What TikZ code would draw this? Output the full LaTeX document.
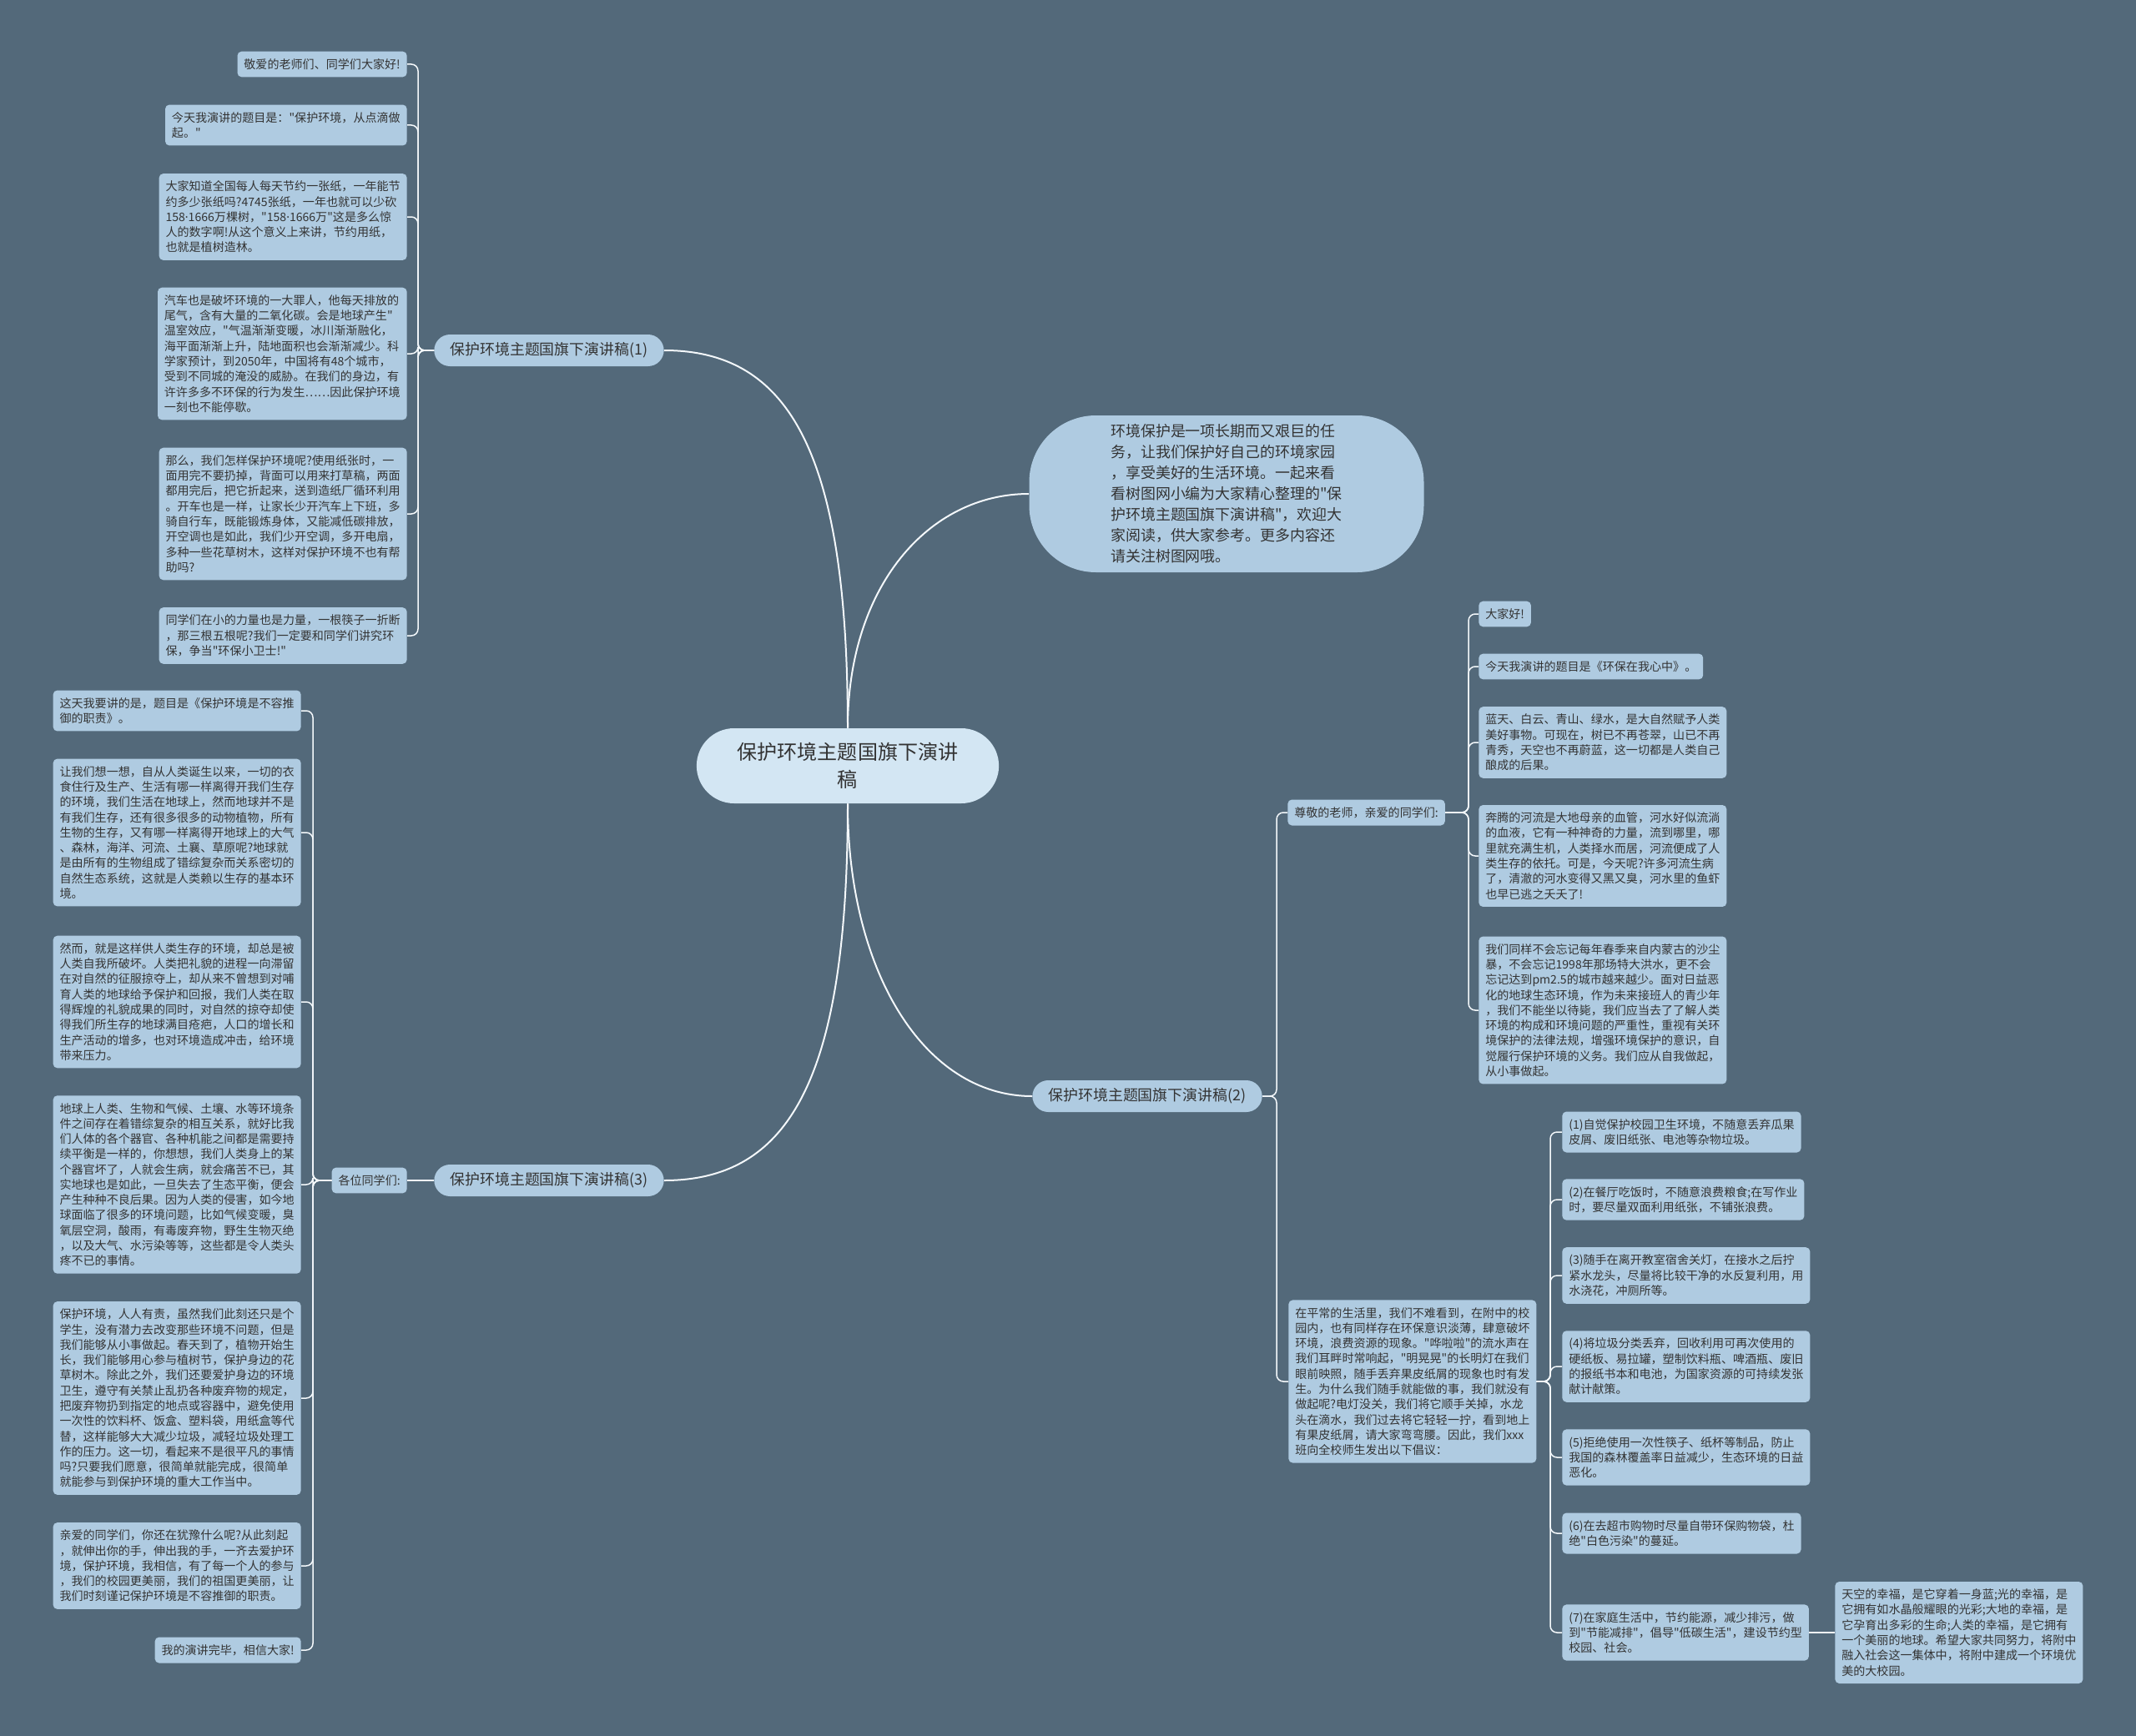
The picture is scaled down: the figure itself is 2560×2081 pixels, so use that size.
\documentclass[tikz,border=0pt]{standalone}
\usepackage{fontspec}
\newfontfamily\cjk{Noto Sans CJK SC}
\newfontfamily\latin{Noto Sans}
\usetikzlibrary{shapes.misc, positioning}
\definecolor{stBg}{HTML}{53697A}
\definecolor{stLeaf}{HTML}{AFCBE1}
\definecolor{stRoot}{HTML}{D3E6F3}
\definecolor{stInk}{HTML}{333333}
\definecolor{stLine}{HTML}{F4F8FB}
\newcommand{\mdot}{{\latin ·}}
\tikzset{
  leaf/.style={rectangle, rounded corners=1mm, fill=stLeaf, text=stInk,
    align=left, font=\cjk\fontsize{8}{10.4}\selectfont, inner xsep=4.5pt, inner ysep=5pt},
  leafL/.style={leaf, anchor=east},
  leafR/.style={leaf, anchor=west},
  topic/.style={rounded rectangle, fill=stLeaf, text=stInk,
    font=\cjk\fontsize{10.2}{12}\selectfont, minimum width=57.4mm, minimum height=7.6mm, inner ysep=1pt},
  root/.style={rounded rectangle, fill=stRoot, text=stInk, align=center,
    font=\cjk\fontsize{13.7}{18.8}\selectfont, minimum width=74.8mm, minimum height=18mm},
  blurb/.style={rectangle, rounded corners=16mm, fill=stLeaf, text=stInk, align=left,
    font=\cjk\fontsize{10.2}{14.2}\selectfont, minimum width=94.6mm, minimum height=37.6mm},
  mainlink/.style={draw=stLine, line width=0.4mm},
  leaflink/.style={draw=stLine, line width=0.3mm, rounded corners=1.6mm}
}
\begin{document}
\begin{tikzpicture}[x=0.2mm, y=-0.2mm]
  \fill[stBg] (0,0) rectangle (2560,2081);

  % centre and main topics
  \node[root] (ctr) at (1016,918) {保护环境主题国旗下演讲\\稿};
  \node[topic] (t1) at (658,420) {保护环境主题国旗下演讲稿(1)};
  \node[topic] (t2) at (1375,1314) {保护环境主题国旗下演讲稿(2)};
  \node[topic] (t3) at (658,1415) {保护环境主题国旗下演讲稿(3)};
  \node[blurb] (blurb) at (1470,592) {环境保护是一项长期而又艰巨的任\\
    务，让我们保护好自己的环境家园\\
    ，享受美好的生活环境。一起来看\\
    看树图网小编为大家精心整理的"保\\
    护环境主题国旗下演讲稿"，欢迎大\\
    家阅读，供大家参考。更多内容还\\
    请关注树图网哦。};

  \draw[mainlink] (ctr.north) .. controls +(0,-330) and +(150,0) .. (t1.east);
  \draw[mainlink] (ctr.north) .. controls +(0,-170) and +(-120,0) .. (blurb.west);
  \draw[mainlink] (ctr.south) .. controls +(0,200) and +(-130,0) .. (t2.west);
  \draw[mainlink] (ctr.south) .. controls +(0,330) and +(150,0) .. (t3.east);

  % trunks
  \coordinate (t1T) at (501,420);
  \coordinate (sirT) at (375,1415);
  \coordinate (t2T) at (1530,1314);
  \coordinate (dearT) at (1760,974);
  \coordinate (dailyT) at (1858,1656);

  % topic (1)
  \node[leafL] (a1) at (488,77) {敬爱的老师们、同学们大家好!};
  \node[leafL] (a2) at (488,150) {今天我演讲的题目是："保护环境，从点滴做\\
    起。"};
  \node[leafL] (a3) at (488,260) {大家知道全国每人每天节约一张纸，一年能节\\
    约多少张纸吗?4745张纸，一年也就可以少砍\\
    158\mdot1666万棵树，"158\mdot1666万"这是多么惊\\
    人的数字啊!从这个意义上来讲，节约用纸，\\
    也就是植树造林。};
  \node[leafL] (a4) at (488,424) {汽车也是破坏环境的一大罪人，他每天排放的\\
    尾气，含有大量的二氧化碳。会是地球产生"\\
    温室效应，"气温渐渐变暖，冰川渐渐融化，\\
    海平面渐渐上升，陆地面积也会渐渐减少。科\\
    学家预计，到2050年，中国将有48个城市，\\
    受到不同城的淹没的威胁。在我们的身边，有\\
    许许多多不环保的行为发生……因此保护环境\\
    一刻也不能停歇。};
  \node[leafL] (a5) at (488,616) {那么，我们怎样保护环境呢?使用纸张时，一\\
    面用完不要扔掉，背面可以用来打草稿，两面\\
    都用完后，把它折起来，送到造纸厂循环利用\\
    。开车也是一样，让家长少开汽车上下班，多\\
    骑自行车，既能锻炼身体，又能减低碳排放，\\
    开空调也是如此，我们少开空调，多开电扇，\\
    多种一些花草树木，这样对保护环境不也有帮\\
    助吗?};
  \node[leafL] (a6) at (488,762) {同学们在小的力量也是力量，一根筷子一折断\\
    ，那三根五根呢?我们一定要和同学们讲究环\\
    保，争当"环保小卫士!"};
  \draw[leaflink] (t1.west) -- (t1T) |- (a1.east);
  \draw[leaflink] (t1.west) -- (t1T) |- (a2.east);
  \draw[leaflink] (t1.west) -- (t1T) |- (a3.east);
  \draw[leaflink] (t1.west) -- (t1T) |- (a4.east);
  \draw[leaflink] (t1.west) -- (t1T) |- (a5.east);
  \draw[leaflink] (t1.west) -- (t1T) |- (a6.east);

  % topic (3)
  \node[leafL] (sir) at (488,1415) {各位同学们:};
  \draw[leaflink] (t3.west) -- (sir.east);
  \node[leafL] (b1) at (361,852) {这天我要讲的是，题目是《保护环境是不容推\\
    御的职责》。};
  \node[leafL] (b2) at (361,998) {让我们想一想，自从人类诞生以来，一切的衣\\
    食住行及生产、生活有哪一样离得开我们生存\\
    的环境，我们生活在地球上，然而地球并不是\\
    有我们生存，还有很多很多的动物植物，所有\\
    生物的生存，又有哪一样离得开地球上的大气\\
    、森林，海洋、河流、土襄、草原呢?地球就\\
    是由所有的生物组成了错综复杂而关系密切的\\
    自然生态系统，这就是人类赖以生存的基本环\\
    境。};
  \node[leafL] (b3) at (361,1201) {然而，就是这样供人类生存的环境，却总是被\\
    人类自我所破坏。人类把礼貌的进程一向滞留\\
    在对自然的征服掠夺上，却从来不曾想到对哺\\
    育人类的地球给予保护和回报，我们人类在取\\
    得辉煌的礼貌成果的同时，对自然的掠夺却使\\
    得我们所生存的地球满目疮疤，人口的增长和\\
    生产活动的增多，也对环境造成冲击，给环境\\
    带来压力。};
  \node[leafL] (b4) at (361,1420) {地球上人类、生物和气候、土壤、水等环境条\\
    件之间存在着错综复杂的相互关系，就好比我\\
    们人体的各个器官、各种机能之间都是需要持\\
    续平衡是一样的，你想想，我们人类身上的某\\
    个器官坏了，人就会生病，就会痛苦不已，其\\
    实地球也是如此，一旦失去了生态平衡，便会\\
    产生种种不良后果。因为人类的侵害，如今地\\
    球面临了很多的环境问题，比如气候变暖，臭\\
    氧层空洞，酸雨，有毒废弃物，野生生物灭绝\\
    ，以及大气、水污染等等，这些都是令人类头\\
    疼不已的事情。};
  \node[leafL] (b5) at (361,1676) {保护环境，人人有责，虽然我们此刻还只是个\\
    学生，没有潜力去改变那些环境不问题，但是\\
    我们能够从小事做起。春天到了，植物开始生\\
    长，我们能够用心参与植树节，保护身边的花\\
    草树木。除此之外，我们还要爱护身边的环境\\
    卫生，遵守有关禁止乱扔各种废弃物的规定，\\
    把废弃物扔到指定的地点或容器中，避免使用\\
    一次性的饮料杯、饭盒、塑料袋，用纸盒等代\\
    替，这样能够大大减少垃圾，减轻垃圾处理工\\
    作的压力。这一切，看起来不是很平凡的事情\\
    吗?只要我们愿意，很简单就能完成，很简单\\
    就能参与到保护环境的重大工作当中。};
  \node[leafL] (b6) at (361,1877) {亲爱的同学们，你还在犹豫什么呢?从此刻起\\
    ，就伸出你的手，伸出我的手，一齐去爱护环\\
    境，保护环境，我相信，有了每一个人的参与\\
    ，我们的校园更美丽，我们的祖国更美丽，让\\
    我们时刻谨记保护环境是不容推御的职责。};
  \node[leafL] (b7) at (361,1978) {我的演讲完毕，相信大家!};
  \draw[leaflink] (sir.west) -- (sirT) |- (b1.east);
  \draw[leaflink] (sir.west) -- (sirT) |- (b2.east);
  \draw[leaflink] (sir.west) -- (sirT) |- (b3.east);
  \draw[leaflink] (sir.west) -- (sirT) |- (b4.east);
  \draw[leaflink] (sir.west) -- (sirT) |- (b5.east);
  \draw[leaflink] (sir.west) -- (sirT) |- (b6.east);
  \draw[leaflink] (sir.west) -- (sirT) |- (b7.east);

  % topic (2)
  \node[leafR] (dear) at (1543,974) {尊敬的老师，亲爱的同学们:};
  \node[leafR] (daily) at (1544,1656) {在平常的生活里，我们不难看到，在附中的校\\
    园内，也有同样存在环保意识淡薄，肆意破坏\\
    环境，浪费资源的现象。"哗啦啦"的流水声在\\
    我们耳畔时常响起，"明晃晃"的长明灯在我们\\
    眼前映照，随手丢弃果皮纸屑的现象也时有发\\
    生。为什么我们随手就能做的事，我们就没有\\
    做起呢?电灯没关，我们将它顺手关掉，水龙\\
    头在滴水，我们过去将它轻轻一拧，看到地上\\
    有果皮纸屑，请大家弯弯腰。因此，我们xxx\\
    班向全校师生发出以下倡议：};
  \draw[leaflink] (t2.east) -- (t2T) |- (dear.west);
  \draw[leaflink] (t2.east) -- (t2T) |- (daily.west);

  \node[leafR] (c1) at (1772,736) {大家好!};
  \node[leafR] (c2) at (1772,799) {今天我演讲的题目是《环保在我心中》。};
  \node[leafR] (c3) at (1772,890) {蓝天、白云、青山、绿水，是大自然赋予人类\\
    美好事物。可现在，树已不再苍翠，山已不再\\
    青秀，天空也不再蔚蓝，这一切都是人类自己\\
    酿成的后果。};
  \node[leafR] (c4) at (1772,1026) {奔腾的河流是大地母亲的血管，河水好似流淌\\
    的血液，它有一种神奇的力量，流到哪里，哪\\
    里就充满生机，人类择水而居，河流便成了人\\
    类生存的依托。可是，今天呢?许多河流生病\\
    了，清澈的河水变得又黑又臭，河水里的鱼虾\\
    也早已逃之夭夭了!};
  \node[leafR] (c5) at (1772,1211) {我们同样不会忘记每年春季来自内蒙古的沙尘\\
    暴，不会忘记1998年那场特大洪水，更不会\\
    忘记达到pm2.5的城市越来越少。面对日益恶\\
    化的地球生态环境，作为未来接班人的青少年\\
    ，我们不能坐以待毙，我们应当去了了解人类\\
    环境的构成和环境问题的严重性，重视有关环\\
    境保护的法律法规，增强环境保护的意识，自\\
    觉履行保护环境的义务。我们应从自我做起，\\
    从小事做起。};
  \draw[leaflink] (dear.east) -- (dearT) |- (c1.west);
  \draw[leaflink] (dear.east) -- (dearT) |- (c2.west);
  \draw[leaflink] (dear.east) -- (dearT) |- (c3.west);
  \draw[leaflink] (dear.east) -- (dearT) |- (c4.west);
  \draw[leaflink] (dear.east) -- (dearT) |- (c5.west);

  \node[leafR] (d1) at (1872,1357) {(1)自觉保护校园卫生环境，不随意丢弃瓜果\\
    皮屑、废旧纸张、电池等杂物垃圾。};
  \node[leafR] (d2) at (1872,1438) {(2)在餐厅吃饭时，不随意浪费粮食;在写作业\\
    时，要尽量双面利用纸张，不铺张浪费。};
  \node[leafR] (d3) at (1872,1529) {(3)随手在离开教室宿舍关灯，在接水之后拧\\
    紧水龙头，尽量将比较干净的水反复利用，用\\
    水浇花，冲厕所等。};
  \node[leafR] (d4) at (1872,1638) {(4)将垃圾分类丢弃，回收利用可再次使用的\\
    硬纸板、易拉罐，塑制饮料瓶、啤酒瓶、废旧\\
    的报纸书本和电池，为国家资源的可持续发张\\
    献计献策。};
  \node[leafR] (d5) at (1872,1747) {(5)拒绝使用一次性筷子、纸杯等制品，防止\\
    我国的森林覆盖率日益减少，生态环境的日益\\
    恶化。};
  \node[leafR] (d6) at (1872,1838) {(6)在去超市购物时尽量自带环保购物袋，杜\\
    绝"白色污染"的蔓延。};
  \node[leafR] (d7) at (1872,1957) {(7)在家庭生活中，节约能源，减少排污，做\\
    到"节能减排"，倡导"低碳生活"，建设节约型\\
    校园、社会。};
  \draw[leaflink] (daily.east) -- (dailyT) |- (d1.west);
  \draw[leaflink] (daily.east) -- (dailyT) |- (d2.west);
  \draw[leaflink] (daily.east) -- (dailyT) |- (d3.west);
  \draw[leaflink] (daily.east) -- (dailyT) |- (d4.west);
  \draw[leaflink] (daily.east) -- (dailyT) |- (d5.west);
  \draw[leaflink] (daily.east) -- (dailyT) |- (d6.west);
  \draw[leaflink] (daily.east) -- (dailyT) |- (d7.west);

  \node[leafR] (sky) at (2199,1957) {天空的幸福，是它穿着一身蓝;光的幸福，是\\
    它拥有如水晶般耀眼的光彩;大地的幸福，是\\
    它孕育出多彩的生命;人类的幸福，是它拥有\\
    一个美丽的地球。希望大家共同努力，将附中\\
    融入社会这一集体中，将附中建成一个环境优\\
    美的大校园。};
  \draw[leaflink] (d7.east) -- (sky.west);
\end{tikzpicture}
\end{document}
